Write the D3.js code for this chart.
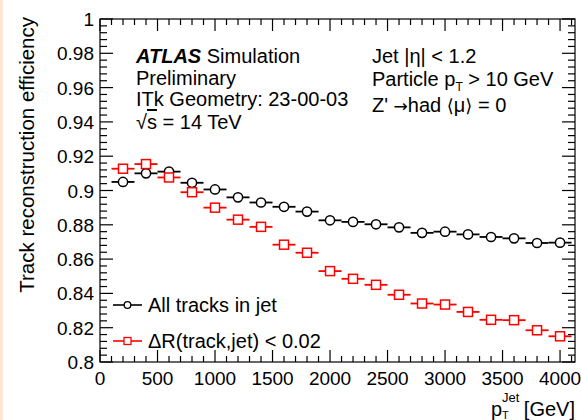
<!DOCTYPE html>
<html><head><meta charset="utf-8">
<script src="https://cdn.jsdelivr.net/npm/d3@7"></script>
<style>
html,body{margin:0;padding:0;background:#fff;}
svg{display:block;font-family:"Liberation Sans",Arial,Helvetica,sans-serif;}
</style></head>
<body>
<svg id="c" width="581" height="420"></svg>
<script>
const ptJet = [200,400,600,800,1000,1200,1400,1600,1800,2000,2200,2400,2600,2800,3000,3200,3400,3600,3800,4000];
const binHalfWidth = 100;
const effAll = [0.905,0.910,0.911,0.9045,0.9006,0.896,0.893,0.8905,0.8877,0.8826,0.8817,0.8803,0.8785,0.8753,0.876,0.8744,0.8729,0.8721,0.8694,0.8696];
const effDR = [0.9127,0.9154,0.9076,0.899,0.890,0.883,0.8788,0.8684,0.8637,0.853,0.8485,0.845,0.8392,0.8341,0.8335,0.8292,0.8246,0.8244,0.8185,0.815];
const xTicks = [0,500,1000,1500,2000,2500,3000,3500,4000];
const yTicks = [0.8,0.82,0.84,0.86,0.88,0.9,0.92,0.94,0.96,0.98,1];
const yTickLabels = ["0.8","0.82","0.84","0.86","0.88","0.9","0.92","0.94","0.96","0.98","1"];
const seriesNames = ["All tracks in jet","ΔR(track,jet) < 0.02"];
const seriesColors = ["#000000","#ff0000"];

const svg = d3.select("#c");
const L=100, R=575, T=19, B=362;
const x = d3.scaleLinear().domain([0,4130]).range([L,R]);
const y = d3.scaleLinear().domain([0.8,1.0]).range([B,T]);

// faint page border on the left
svg.append("rect").attr("x",0).attr("y",0).attr("width",3).attr("height",420).attr("fill","#fde6d4");

// frame
svg.append("rect").attr("x",L).attr("y",T).attr("width",R-L).attr("height",B-T)
  .attr("fill","none").attr("stroke","#000").attr("stroke-width",1.2);

// ticks
const g = svg.append("g").attr("stroke","#000").attr("stroke-width",1.2);
const xMinor = d3.range(0,4101,100);
xMinor.forEach(v=>{
  const major = v%500===0;
  const len = major?12:6;
  g.append("line").attr("x1",x(v)).attr("x2",x(v)).attr("y1",B).attr("y2",B-len);
  g.append("line").attr("x1",x(v)).attr("x2",x(v)).attr("y1",T).attr("y2",T+len);
});
const yMinor = d3.range(0,51).map(i=>0.8+i*0.004);
yMinor.forEach((v,i)=>{
  const major = i%5===0;
  const len = major?13:7;
  g.append("line").attr("x1",L).attr("x2",L+len).attr("y1",y(v)).attr("y2",y(v));
  g.append("line").attr("x1",R).attr("x2",R-len).attr("y1",y(v)).attr("y2",y(v));
});

// tick labels
svg.append("g").selectAll("text").data(xTicks).join("text")
  .attr("x",d=>x(d)).attr("y",385).attr("text-anchor","middle")
  .attr("font-size",19).text(d=>d);
svg.append("g").selectAll("text").data(yTicks).join("text")
  .attr("x",94).attr("y",d=>y(d)+7).attr("text-anchor","end")
  .attr("font-size",19).text((d,i)=>yTickLabels[i]);

// axis titles
svg.append("text").attr("transform","translate(34,17) rotate(-90)")
  .attr("text-anchor","end").attr("font-size",20.5).text("Track reconstruction efficiency");
svg.append("text").attr("x",575).attr("y",416).attr("text-anchor","end").attr("font-size",20).text("[GeV]");
svg.append("text").attr("x",491).attr("y",416).attr("font-size",20).text("p");
svg.append("text").attr("x",502).attr("y",402).attr("font-size",13).text("Jet");
svg.append("text").attr("x",502).attr("y",419).attr("font-size",11).text("T");

// data
const seriesData = [effAll, effDR];
seriesData.forEach((vals,si)=>{
  const col = seriesColors[si];
  const sg = svg.append("g");
  sg.selectAll("line").data(ptJet).join("line")
    .attr("x1",d=>x(d-binHalfWidth)).attr("x2",d=>x(d+binHalfWidth))
    .attr("y1",(d,i)=>y(vals[i])).attr("y2",(d,i)=>y(vals[i]))
    .attr("stroke",col).attr("stroke-width",1.8);
});
seriesData.forEach((vals,si)=>{
  const col = seriesColors[si];
  const mg = svg.append("g");
  if(si===0){
    mg.selectAll("circle").data(ptJet).join("circle")
      .attr("cx",d=>x(d)).attr("cy",(d,i)=>y(vals[i])).attr("r",4.6)
      .attr("fill","#fff").attr("stroke",col).attr("stroke-width",1.5);
  } else {
    mg.selectAll("rect").data(ptJet).join("rect")
      .attr("x",d=>x(d)-4.5).attr("y",(d,i)=>y(vals[i])-4.5).attr("width",9).attr("height",9)
      .attr("fill","#fff").attr("stroke",col).attr("stroke-width",1.5);
  }
});

// labels
const fs=20;
const t1 = svg.append("text").attr("x",136).attr("y",63).attr("font-size",fs);
t1.append("tspan").attr("font-weight","bold").attr("font-style","italic").text("ATLAS");
t1.append("tspan").text(" Simulation");
svg.append("text").attr("x",136).attr("y",85).attr("font-size",fs).text("Preliminary");
svg.append("text").attr("x",136).attr("y",106).attr("font-size",fs).text("ITk Geometry: 23-00-03");
const t4 = svg.append("text").attr("x",136).attr("y",129).attr("font-size",fs);
t4.append("tspan").text("√");
t4.append("tspan").attr("text-decoration","overline").text("s");
t4.append("tspan").text(" = 14 TeV");

svg.append("text").attr("x",372).attr("y",63).attr("font-size",fs).text("Jet |η| < 1.2");
const r2 = svg.append("text").attr("x",372).attr("y",86).attr("font-size",fs);
r2.append("tspan").text("Particle p");
r2.append("tspan").attr("font-size",12).attr("dy",5).text("T");
r2.append("tspan").attr("dy",-5).text(" > 10 GeV");
const r3 = svg.append("text").attr("x",372).attr("y",112).attr("font-size",fs);
r3.append("tspan").text("Z' ");
r3.append("tspan").attr("font-family","DejaVu Sans").attr("font-size",17).text("→");
r3.append("tspan").text("had ");
r3.append("tspan").attr("font-family","DejaVu Sans").attr("font-size",18).text("⟨");
r3.append("tspan").text("μ");
r3.append("tspan").attr("font-family","DejaVu Sans").attr("font-size",18).text("⟩");
r3.append("tspan").text(" = 0");

// legend
const legY = [305,341];
seriesNames.forEach((name,i)=>{
  const col = seriesColors[i];
  svg.append("line").attr("x1",113).attr("x2",142).attr("y1",legY[i]).attr("y2",legY[i])
    .attr("stroke",col).attr("stroke-width",1.6);
  if(i===0){
    svg.append("circle").attr("cx",127.5).attr("cy",legY[i]).attr("r",3.3)
      .attr("fill","#fff").attr("stroke",col).attr("stroke-width",1.3);
  } else {
    svg.append("rect").attr("x",124).attr("y",legY[i]-3.5).attr("width",7).attr("height",7)
      .attr("fill","#fff").attr("stroke",col).attr("stroke-width",1.3);
  }
  svg.append("text").attr("x",148).attr("y",legY[i]+7).attr("font-size",fs).text(name);
});
</script>
</body></html>
